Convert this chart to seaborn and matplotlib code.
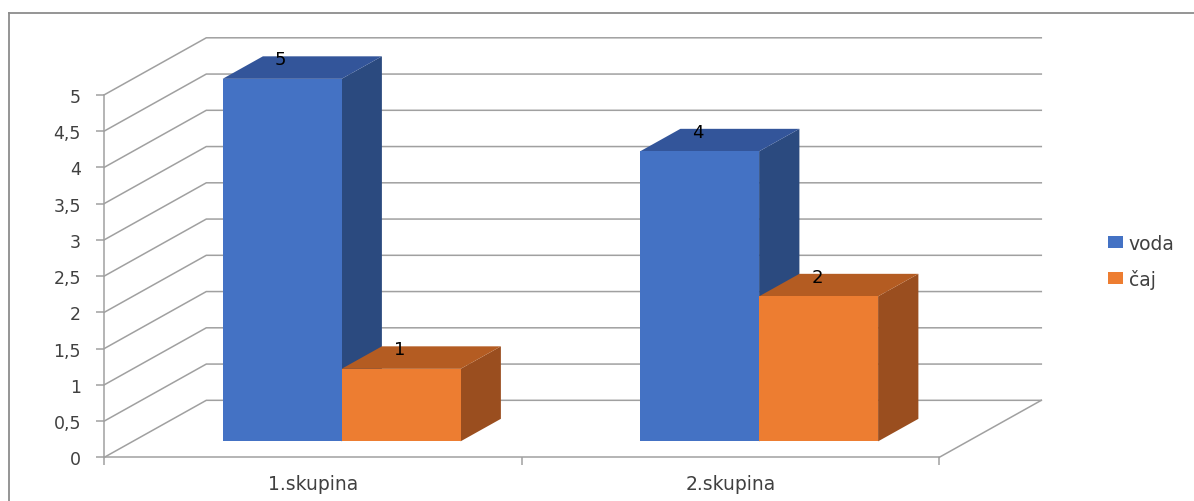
import numpy as np
import pandas as pd
import seaborn as sns
import matplotlib.pyplot as plt
from matplotlib.patches import Polygon, Patch
from matplotlib.lines import Line2D

# podaci
skupine = ["1.skupina", "2.skupina"]
voda = [5, 4]
caj = [1, 2]
serije = ["voda", "čaj"]

plt.rcParams['font.family'] = ['DejaVu Sans']

front = {"voda": "#4472C4", "čaj": "#ED7D31"}
top = {"voda": "#33559A", "čaj": "#B45C22"}
side = {"voda": "#2B4A7F", "čaj": "#9A4E1F"}
grid_c = "#A0A0A0"

df = pd.DataFrame({
    "skupina": skupine * 2,
    "vrijednost": voda + caj,
    "napitak": [serije[0]] * 2 + [serije[1]] * 2,
})

W, H = 1194, 502
fig = plt.figure(figsize=(W / 100, H / 100), dpi=100)
ax = fig.add_axes([104.3 / W, (H - 458.3) / H, 937 / W, 419.5 / H])

sns.barplot(data=df, x="skupina", y="vrijednost", hue="napitak",
            palette=[front[s] for s in serije], saturation=1, width=0.57,
            ax=ax, legend=False)

# dubina 3D (u jedinicama podataka)
Dx, Dy = 0.2443, 0.786
f0, fd = 0.28, 0.395
sx, sy = f0 * Dx, f0 * Dy
bx, by = fd * Dx, fd * Dy

ax.set_xlim(-0.5, 1.5 + Dx)
ax.set_ylim(0, 5 + Dy)

yt = np.arange(0, 5.01, 0.5)
for v in yt:
    ax.plot([-0.5, -0.5 + Dx, 1.5 + Dx], [v, v + Dy, v + Dy],
            color=grid_c, lw=1.1, zorder=1, clip_on=False)
ax.plot([1.5, 1.5 + Dx], [0, Dy], color=grid_c, lw=1.1, zorder=1, clip_on=False)

bars = sorted(ax.patches, key=lambda p: p.get_x())
for i, p in enumerate(bars):
    h = p.get_height()
    serija = serije[0] if p.get_facecolor()[2] > 0.5 else serije[1]
    p.set_x(p.get_x() + sx)
    p.set_y(sy)
    p.set_linewidth(0)
    z = 3 + i
    p.set_zorder(z + 0.5)
    x0, x1 = p.get_x(), p.get_x() + p.get_width()
    y0, y1 = sy, sy + h
    ax.add_patch(Polygon([(x1, y0), (x1 + bx, y0 + by), (x1 + bx, y1 + by), (x1, y1)],
                         closed=True, facecolor=side[serija], lw=0, zorder=z))
    ax.add_patch(Polygon([(x0, y1), (x1, y1), (x1 + bx, y1 + by), (x0 + bx, y1 + by)],
                         closed=True, facecolor=top[serija], lw=0, zorder=z))
    ax.annotate(f"{h:g}", xy=((x0 + x1) / 2, y1), xytext=(-1, 14),
                textcoords="offset points", ha="center", va="center",
                fontsize=13, color="black", zorder=20)

for s in ["top", "right"]:
    ax.spines[s].set_visible(False)
ax.spines["left"].set_bounds(0, 5)
ax.spines["bottom"].set_bounds(-0.5, 1.5)
for s in ["left", "bottom"]:
    ax.spines[s].set_color(grid_c)
    ax.spines[s].set_linewidth(1.1)

ax.set_yticks(yt)
ax.set_yticklabels([f"{v:g}".replace(".", ",") for v in yt])
ax.tick_params(axis="y", length=5.8, width=1.1, color=grid_c, pad=11,
               labelsize=12.5, labelcolor="#404040")
ax.set_xticks([0, 1])
ax.set_xticklabels(skupine)
ax.set_xticks([-0.5, 0.5, 1.5], minor=True)
ax.tick_params(axis="x", which="major", length=0, pad=12, labelsize=13.5,
               labelcolor="#404040")
ax.tick_params(axis="x", which="minor", length=5.8, width=1.1, color=grid_c)
ax.set_xlabel("")
ax.set_ylabel("")

handles = [Patch(facecolor=front[s], edgecolor="none") for s in serije]
fig.legend(handles, serije, loc="upper left", bbox_to_anchor=(1091 / W, 1 - 218 / H),
           frameon=False, handlelength=0.8, handleheight=0.6, labelspacing=0.85,
           fontsize=13.5, handletextpad=0.3, labelcolor="#404040")

fig.add_artist(Line2D([8.5 / W, 1], [1 - 13.5 / H] * 2, transform=fig.transFigure,
                      color="#8C8C8C", lw=1.3))
fig.add_artist(Line2D([8.5 / W] * 2, [0, 1 - 13.5 / H], transform=fig.transFigure,
                      color="#8C8C8C", lw=1.3))

fig.savefig("out.png", dpi=100)
